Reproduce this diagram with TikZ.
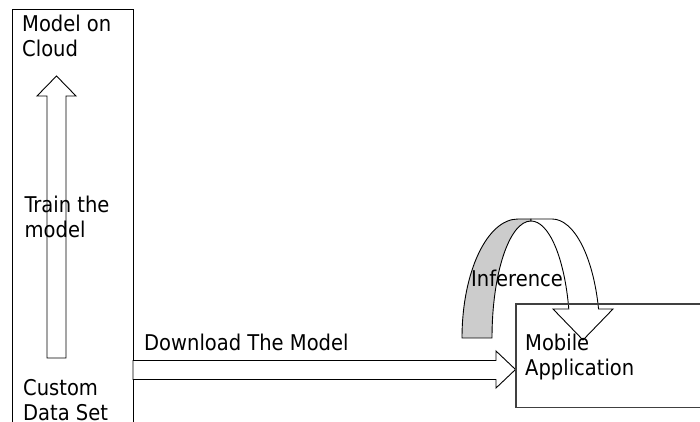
\documentclass[tikz,border=0pt]{standalone}
\usepackage{fontspec}
\setmainfont{DejaVu Sans Condensed}
\begin{document}
\begin{tikzpicture}[x=1pt,y=1pt,line join=miter]
\tikzset{
  lbl/.style={font=\fontsize{21.7pt}{25.3pt}\selectfont, align=left, inner sep=0pt, anchor=base west},
  outline/.style={draw=black, line width=0.9pt},
  blockarrow/.style={outline, fill=white},
  backface/.style={outline, fill=black!20},
  appbox/.style={draw=black!75, line width=1.3pt},
}
\clip (0,0) rectangle (700,422);

% left column: cloud model above, data set below
\draw[outline] (12.5,-10) rectangle (133,412.5);

% upward block arrow (training)
\draw[blockarrow] (47,64) -- (47,326) -- (37,326) -- (56.5,346) -- (76,326)
  -- (66,326) -- (66,64) -- cycle;

% rightward block arrow (download)
\draw[blockarrow] (133,61.5) -- (496,61.5) -- (496,71) -- (515.5,52.5)
  -- (496,34) -- (496,42.5) -- (133,42.5) -- cycle;

% curved arrow: shaded back of the ribbon
\draw[backface] (462,84) arc[start angle=180,end angle=90,x radius=56pt,y radius=119pt]
  -- (531,203) -- (531,201)
  arc[start angle=90,end angle=180,x radius=39pt,y radius=117pt] -- cycle;

% curved arrow: front of the ribbon with its head
\draw[blockarrow] (531,201) -- (531,203) -- (552,203)
  arc[start angle=90,end angle=14.1,x radius=48pt,y radius=119pt]
  -- (613,113) -- (583,82) -- (553,113) -- (568.8,113)
  arc[start angle=14.36,end angle=90,x radius=39pt,y radius=117pt] -- cycle;

% mobile application box
\draw[appbox] (516,118) rectangle (712,14.7);

% labels (anchored on the baseline of their last line)
\node[lbl] (cloud) at (22,365.5) {Model on\\Cloud};
\node[lbl] (train) at (24.5,184.5) {Train the\\model};
\node[lbl] (data) at (23,1.5) {Custom\\Data Set};
\node[lbl] (download) at (144,71.3) {Download The Model};
\node[lbl] (infer) at (471,135) {Inference};
\node[lbl] (mobile) at (525,46) {Mobile\\Application};
\end{tikzpicture}
\end{document}
